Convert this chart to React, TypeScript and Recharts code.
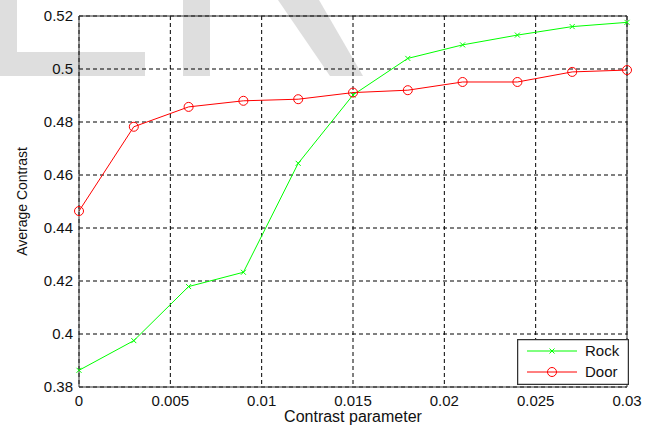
import {
  CartesianGrid,
  Legend,
  Line,
  LineChart,
  ReferenceLine,
  XAxis,
  YAxis,
} from "recharts";

const contrastParam = [0, 0.003, 0.006, 0.009, 0.012, 0.015, 0.018, 0.021, 0.024, 0.027, 0.03];
const rock = [0.3863, 0.3975, 0.4179, 0.4233, 0.4644, 0.4902, 0.504, 0.5091, 0.5128, 0.516, 0.5176];
const door = [0.4464, 0.4782, 0.4857, 0.488, 0.4886, 0.4911, 0.492, 0.4951, 0.4951, 0.4989, 0.4996];
const xTicks = [0, 0.005, 0.01, 0.015, 0.02, 0.025, 0.03];
const yTicks = [0.38, 0.4, 0.42, 0.44, 0.46, 0.48, 0.5, 0.52];

const GREEN = "#00ff00";
const RED = "#ff0000";
const FONT = "'Liberation Sans', Arial, sans-serif";

const data = contrastParam.map((x, i) => ({ x, Rock: rock[i], Door: door[i] }));

function XMark(props: any) {
  const { cx, cy } = props;
  if (cx == null || cy == null) return null;
  const s = 2.5;
  return (
    <path
      d={`M${cx - s},${cy - s}L${cx + s},${cy + s}M${cx - s},${cy + s}L${cx + s},${cy - s}`}
      stroke={GREEN}
      strokeWidth={1}
      fill="none"
    />
  );
}

function LegendBox() {
  const row = (name: string, color: string, marker: "x" | "o", y: number) => (
    <g>
      <line x1={10} x2={60} y1={y} y2={y} stroke={color} strokeWidth={1} />
      {marker === "o" ? (
        <circle cx={35} cy={y} r={4.5} stroke={color} fill="none" />
      ) : (
        <path d={`M32.5,${y - 2.5}L37.5,${y + 2.5}M32.5,${y + 2.5}L37.5,${y - 2.5}`} stroke={color} />
      )}
      <text x={68} y={y + 5} fontSize={15} fill="#111" fontFamily={FONT}>
        {name}
      </text>
    </g>
  );
  return (
    <svg width={112} height={46} style={{ display: "block" }}>
      <rect x={0.5} y={0.5} width={111} height={45} fill="#fff" stroke="#333" strokeWidth={1.5} />
      {row("Rock", GREEN, "x", 12)}
      {row("Door", RED, "o", 33)}
    </svg>
  );
}

export default function App() {
  return (
    <div style={{ position: "absolute", left: 0, top: 0, width: 657, height: 425, background: "#fff" }}>
      {/* faint watermark behind the plot */}
      <svg width={657} height={425} style={{ position: "absolute", left: 0, top: 0 }}>
        <path d="M0,0H17V52H145V76H0Z" fill="#dedede" />
        <rect x={183} y={0} width={27} height={76} fill="#dedede" />
        <path d="M278,0L319,0L363,76L330,76Z" fill="#dedede" />
      </svg>
      <div style={{ position: "absolute", left: 0, top: 0 }}>
        <LineChart
          width={657}
          height={425}
          data={data}
          margin={{ top: 16, right: 30, bottom: 0, left: 0 }}
          style={{ fontFamily: FONT }}
        >
          <CartesianGrid stroke="#000" strokeDasharray="4 3" horizontalValues={yTicks} verticalValues={xTicks} />
          <XAxis
            dataKey="x"
            type="number"
            domain={[0, 0.03]}
            ticks={xTicks}
            height={38}
            tickLine={false}
            axisLine={{ stroke: "#333" }}
            tick={{ fill: "#111", fontSize: 15 }}
            label={{ value: "Contrast parameter", position: "insideBottom", offset: 3, fill: "#111", fontSize: 16 }}
          />
          <YAxis
            type="number"
            domain={[0.38, 0.52]}
            ticks={yTicks}
            width={79}
            tickLine={false}
            tickMargin={0}
            axisLine={{ stroke: "#333" }}
            tick={{ fill: "#111", fontSize: 15 }}
            label={{ value: "Average Contrast", angle: -90, position: "center", dx: -17, fill: "#111", fontSize: 14 }}
          />
          <ReferenceLine y={0.52} stroke="#333" />
          <ReferenceLine x={0.03} stroke="#333" />
          <Legend
            layout="horizontal"
            verticalAlign="middle"
            align="center"
            content={() => <LegendBox />}
            wrapperStyle={{ position: "absolute", left: 517, top: 339, width: 112, height: 46 }}
          />
          <Line
            dataKey="Rock"
            stroke={GREEN}
            strokeWidth={1}
            dot={<XMark />}
            activeDot={false}
            isAnimationActive={false}
          />
          <Line
            dataKey="Door"
            stroke={RED}
            strokeWidth={1}
            dot={{ r: 4.5, stroke: RED, strokeWidth: 1, fill: "none" }}
            activeDot={false}
            isAnimationActive={false}
          />
        </LineChart>
      </div>
    </div>
  );
}
